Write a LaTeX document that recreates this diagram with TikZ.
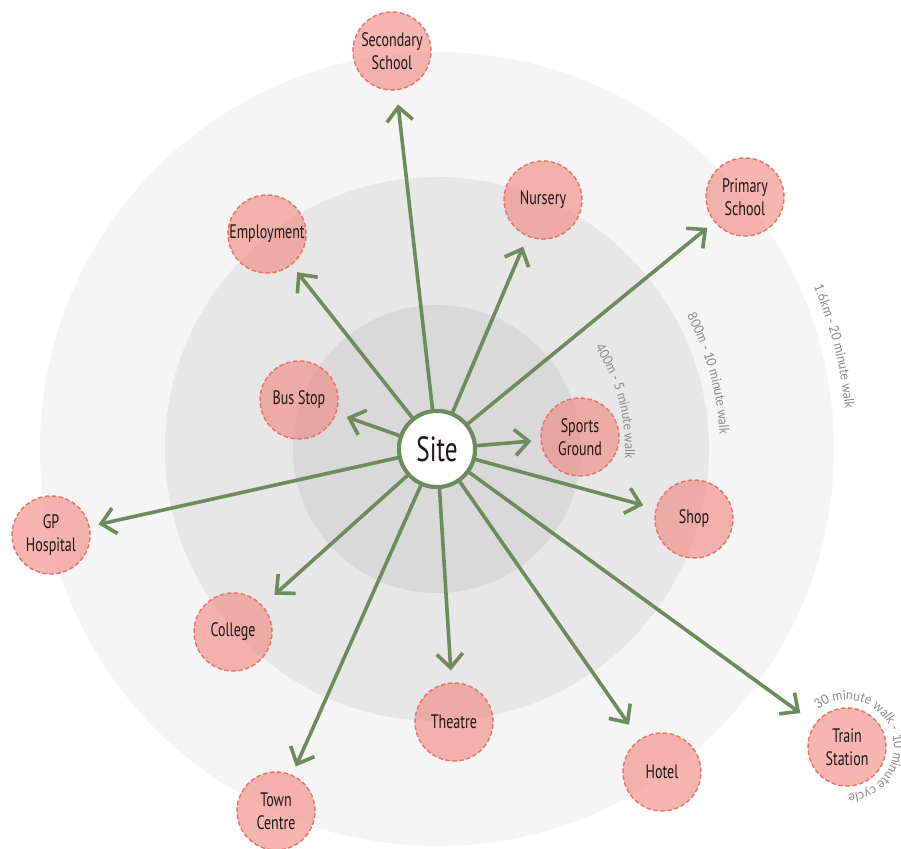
\documentclass[tikz,border=0pt]{standalone}
\usepackage{fontspec}
\setmainfont{PT Sans}[FakeStretch=0.72]
\newfontfamily\arcfont{Lato}[FakeStretch=0.9]
\usetikzlibrary{arrows.meta,decorations.text,calc}
\definecolor{ringA}{RGB}{245,245,245}
\definecolor{ringB}{RGB}{231,231,231}
\definecolor{ringC}{RGB}{217,217,217}
\definecolor{linkgreen}{RGB}{108,140,92}
\definecolor{pinkfill}{RGB}{240,132,122}
\definecolor{pinkline}{RGB}{232,112,102}
\definecolor{txtdark}{RGB}{32,22,22}
\definecolor{arcgray}{RGB}{140,140,140}
\newcommand{\arcstyle}{\arcfont\fontsize{13.5}{16}\selectfont\color{arcgray}}
\tikzset{
  place/.style={circle, minimum size=78pt, inner sep=0pt, fill=pinkfill,
    fill opacity=0.6, text opacity=1, draw=pinkline, draw opacity=1,
    line width=1.4pt, dash pattern=on 4.5pt off 2.5pt, align=center,
    font=\fontsize{19.5}{23}\selectfont, text=txtdark},
  sitenode/.style={circle, minimum size=76pt, inner sep=0pt, fill=white,
    draw=linkgreen, line width=4pt, font=\fontsize{35}{40}\selectfont, text=txtdark},
  link/.style={draw=linkgreen, line width=3.6pt,
    -{Straight Barb[length=14pt,width=26pt]}},
}
\begin{document}
\begin{tikzpicture}[x=1pt,y=1pt]
\useasboundingbox (0,0) rectangle (901,848);
\clip (0,0) rectangle (901,848);
\fill[white] (0,0) rectangle (901,848);
\coordinate (c) at (437,399);
\fill[ringA] (c) circle (397pt);
\fill[ringB] (c) circle (272pt);
\fill[ringC] (c) circle (144pt);

% range labels
\path[decorate, decoration={text along path, text align=center,
  text={|\arcstyle|400m - 5 minute walk}}]
  ($(c)+(45:188pt)$) arc[start angle=45, end angle=-15, radius=188pt];
\path[decorate, decoration={text along path, text align=center,
  text={|\arcstyle|800m - 10 minute walk}}]
  ($(c)+(45:283pt)$) arc[start angle=45, end angle=-14, radius=283pt];
\path[decorate, decoration={text along path, text align=center,
  text={|\arcstyle|1.6km - 20 minute walk}}]
  ($(c)+(40:410pt)$) arc[start angle=40, end angle=-11, radius=410pt];

% nodes
\node[sitenode] (site) at (c) {Site};
\node[place] (sec) at (392,797) {Secondary\\School};
\node[place] (nur) at (543,648) {Nursery};
\node[place] (pri) at (745,651) {Primary\\School};
\node[place] (emp) at (267,614) {Employment};
\node[place] (bus) at (299,448) {Bus Stop};
\node[place] (spo) at (580,411) {Sports\\Ground};
\node[place] (shop) at (694,329) {Shop};
\node[place] (gp) at (51,313) {GP\\Hospital};
\node[place] (col) at (233,216) {College};
\node[place] (the) at (454,126) {Theatre};
\node[place] (hot) at (662,76) {Hotel};
\node[place] (tra) at (847,101) {Train\\Station};
\node[place] (town) at (276,37) {Town\\Centre};

% connectors
\draw[link, shorten >=14pt] (site) -- (sec);
\draw[link, shorten >=11pt] (site) -- (nur);
\draw[link, shorten >=9pt] (site) -- (pri);
\draw[link, shorten >=9pt] (site) -- (emp);
\draw[link, shorten >=11pt] (site) -- (bus);
\draw[link, shorten >=9pt] (site) -- (spo);
\draw[link, shorten >=13pt] (site) -- (shop);
\draw[link, shorten >=9pt] (site) -- (gp);
\draw[link, shorten >=16pt] (site) -- (col);
\draw[link, shorten >=12pt] (site) -- (the);
\draw[link, shorten >=18pt] (site) -- (hot);
\draw[link, shorten >=18pt] (site) -- (tra);
\draw[link, shorten >=9pt] (site) -- (town);
\node[sitenode] at (c) {Site};

% train station label
\path[decorate, decoration={text along path, text align=left,
  text={|\arcstyle|30 minute walk - 10 minute cycle}}]
  ($(tra)+(128:47pt)$) arc[start angle=128, end angle=-150, radius=47pt];
\end{tikzpicture}
\end{document}
